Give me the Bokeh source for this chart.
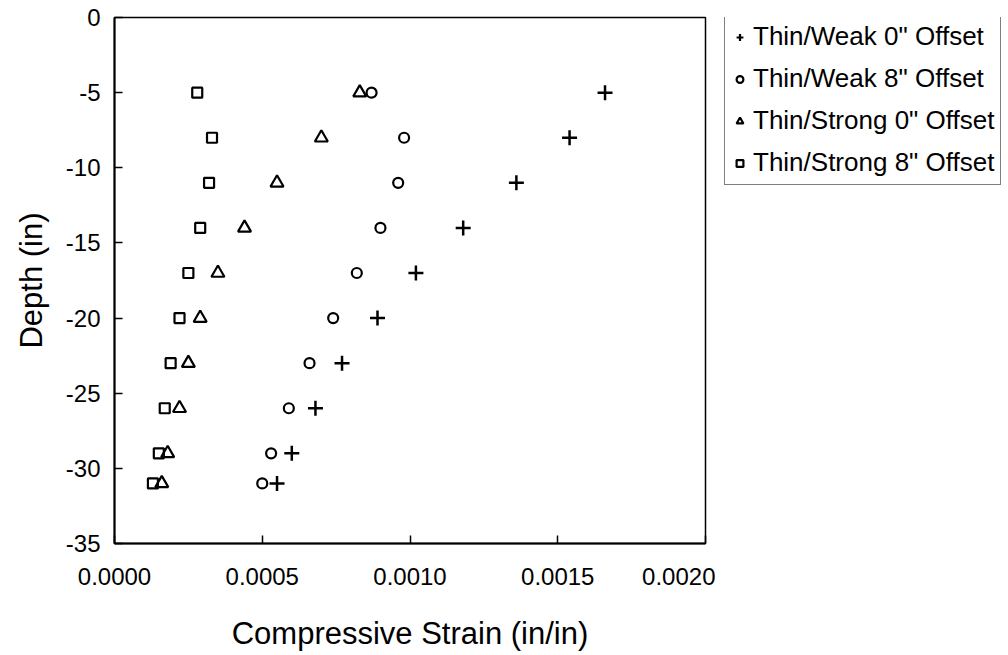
from bokeh.plotting import figure
from bokeh.layouts import row
from bokeh.models import (Range1d, FixedTicker, NumeralTickFormatter, PrintfTickFormatter,
                          Legend, LegendItem, ColumnDataSource)
from bokeh.embed import file_html
from bokeh.resources import INLINE

# ---- data ----
depth = [-5, -8, -11, -14, -17, -20, -23, -26, -29, -31]
thin_weak_0 = [0.00166, 0.00154, 0.00136, 0.00118, 0.00102, 0.00089, 0.00077, 0.00068, 0.00060, 0.00055]
thin_weak_8 = [0.00087, 0.00098, 0.00096, 0.00090, 0.00082, 0.00074, 0.00066, 0.00059, 0.00053, 0.00050]
thin_strong_0 = [0.00083, 0.00070, 0.00055, 0.00044, 0.00035, 0.00029, 0.00025, 0.00022, 0.00018, 0.00016]
thin_strong_8 = [0.00028, 0.00033, 0.00032, 0.00029, 0.00025, 0.00022, 0.00019, 0.00017, 0.00015, 0.00013]

series_labels = ['Thin/Weak 0" Offset', 'Thin/Weak 8" Offset',
                 'Thin/Strong 0" Offset', 'Thin/Strong 8" Offset']
x_ticks = [0.0, 0.0005, 0.0010, 0.0015, 0.0020]
y_ticks = [0, -5, -10, -15, -20, -25, -30, -35]

FONT = "Liberation Sans"

p = figure(width=715, height=655, output_backend="svg", toolbar_location=None,
           x_range=Range1d(0, 0.002), y_range=Range1d(-35, 0),
           min_border_left=114, min_border_right=10, min_border_top=17,
           min_border_bottom=112)
p.grid.visible = False
p.background_fill_color = "white"
p.border_fill_color = "white"
p.outline_line_color = "black"
p.outline_line_width = 1.5

# axes
p.xaxis.ticker = FixedTicker(ticks=x_ticks)
p.yaxis.ticker = FixedTicker(ticks=y_ticks)
p.xaxis.formatter = NumeralTickFormatter(format="0.0000")
p.yaxis.formatter = PrintfTickFormatter(format="%d")
p.xaxis.axis_label = "Compressive Strain (in/in)"
p.yaxis.axis_label = "Depth (in)"
for ax in (p.xaxis, p.yaxis):
    ax.axis_line_color = "black"
    ax.axis_line_width = 2
    ax.major_tick_in = 8
    ax.major_tick_out = 0
    ax.major_tick_line_color = "black"
    ax.major_tick_line_width = 1.5
    ax.minor_tick_line_color = None
    ax.major_label_text_font = FONT
    ax.major_label_text_font_size = "24px"
    ax.major_label_text_color = "black"
    ax.axis_label_text_font = FONT
    ax.axis_label_text_font_size = "31px"
    ax.axis_label_text_font_style = "normal"
    ax.axis_label_text_color = "black"
p.xaxis.major_label_standoff = 24
p.yaxis.major_label_standoff = 14
p.xaxis.axis_label_standoff = 28
p.yaxis.axis_label_standoff = 14

src = ColumnDataSource(dict(depth=depth, tw0=thin_weak_0, tw8=thin_weak_8,
                            ts0=thin_strong_0, ts8=thin_strong_8))

p.scatter("tw0", "depth", source=src, marker="cross", size=15,
          line_color="black", line_width=2.5, fill_alpha=0)
p.scatter("tw8", "depth", source=src, marker="circle", size=10,
          line_color="black", line_width=2.2, fill_alpha=0)
p.scatter("ts0", "depth", source=src, marker="triangle", size=13,
          line_color="black", line_width=2.2, fill_alpha=0)
p.scatter("ts8", "depth", source=src, marker="square", size=10,
          line_color="black", line_width=2.2, fill_alpha=0)

# ---- legend panel (separate figure to the right) ----
# its ranges lie outside the data, so these renderers only supply legend samples
q = figure(width=293, height=655, output_backend="svg", toolbar_location=None,
           x_axis_type=None, y_axis_type=None,
           x_range=Range1d(0, 1), y_range=Range1d(0, 1),
           min_border_left=0, min_border_right=0, min_border_top=0,
           min_border_bottom=0)
q.grid.visible = False
q.outline_line_color = None
q.background_fill_color = "white"
q.border_fill_color = "white"

l1 = q.scatter("tw0", "depth", source=src, marker="cross", size=14,
               line_color="black", line_width=2.2, fill_alpha=0)
l2 = q.scatter("tw8", "depth", source=src, marker="circle", size=9,
               line_color="black", line_width=2.2, fill_alpha=0)
l3 = q.scatter("ts0", "depth", source=src, marker="triangle", size=12,
               line_color="black", line_width=2.2, fill_alpha=0)
l4 = q.scatter("ts8", "depth", source=src, marker="square", size=10,
               line_color="black", line_width=2.2, fill_alpha=0)

legend = Legend(items=[LegendItem(label=series_labels[0], renderers=[l1]),
                       LegendItem(label=series_labels[1], renderers=[l2]),
                       LegendItem(label=series_labels[2], renderers=[l3]),
                       LegendItem(label=series_labels[3], renderers=[l4])],
                location=(9, 358))
legend.label_text_font = FONT
legend.label_text_font_size = "26px"
legend.label_text_color = "black"
legend.border_line_color = "black"
legend.border_line_width = 1.5
legend.background_fill_color = "white"
legend.background_fill_alpha = 1
legend.padding = 6
legend.margin = 0
legend.spacing = 11
legend.label_height = 30
legend.glyph_height = 30
legend.glyph_width = 17
legend.label_standoff = 5
q.add_layout(legend, "center")

layout = row(p, q, spacing=0)
open("out.html", "w").write(file_html(layout, INLINE))
